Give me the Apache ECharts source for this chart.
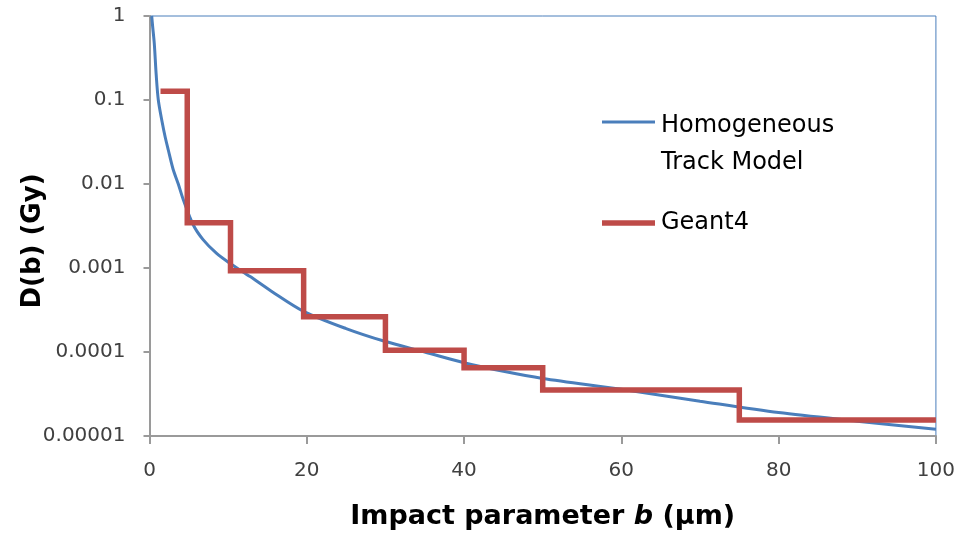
<!DOCTYPE html>
<html>
<head>
<meta charset="utf-8">
<script src="https://cdn.jsdelivr.net/npm/echarts@6/dist/echarts.min.js"></script>
<style>
  html, body { margin: 0; padding: 0; background: #fff; }
  #chart { width: 958px; height: 540px; }
</style>
</head>
<body>
<div id="chart"></div>
<script>
// Homogeneous track model: dose vs. impact parameter
const modelB = [0.28, 0.4, 0.61, 0.85, 1.12, 1.6, 2.0, 2.39, 3.0, 3.66, 4.3, 5.57, 6.84, 8.5, 10.2,
                12.8, 15.5, 19.6, 25, 29.8, 35, 40, 45, 50, 60, 70, 80, 90, 100];
const modelDose = [1.0, 0.75, 0.47, 0.2, 0.1, 0.055, 0.036, 0.0254, 0.015, 0.01, 0.0065, 0.00325, 0.00216, 0.0015, 0.00114,
                   0.00079, 0.00053, 0.000305, 0.00019, 0.000135, 0.0001, 7.46e-5, 5.9e-5, 4.85e-5, 3.6e-5, 2.6e-5, 1.9e-5, 1.5e-5, 1.2e-5];

// Geant4 binned dose: left bin edges (last entry closes the final bin)
const geantB = [1.4, 4.8, 10.3, 19.6, 30, 40, 50, 75, 100];
const geantDose = [0.127, 0.00346, 0.00093, 0.000262, 0.000105, 6.5e-5, 3.53e-5, 1.55e-5, 1.55e-5];

const xTicks = [0, 20, 40, 60, 80, 100];
const yTickLabels = ['0.00001', '0.0001', '0.001', '0.01', '0.1', '1'];

const seriesNames = ['Homogeneous\nTrack Model', 'Geant4'];
const blue = '#4a7ebb';
const red = '#be4b48';
const font = 'DejaVu Sans';

const chart = echarts.init(document.getElementById('chart'), null, { renderer: 'canvas' });

chart.setOption({
  animation: false,
  backgroundColor: '#ffffff',
  grid: {
    left: 149.5, right: 22, top: 16, bottom: 104,
    show: true, borderColor: blue, borderWidth: 1, backgroundColor: 'transparent'
  },
  xAxis: {
    type: 'value',
    min: xTicks[0], max: xTicks[xTicks.length - 1], interval: 20,
    axisLine: { show: true, lineStyle: { color: '#9a9a9a', width: 2 } },
    axisTick: { show: true, length: 8, lineStyle: { color: '#9a9a9a', width: 2 } },
    splitLine: { show: false },
    axisLabel: { margin: 25, fontFamily: font, fontSize: 20, color: '#404040' },
    name: '{n|Impact parameter }{i|b}{n| (µm)}',
    nameLocation: 'middle',
    nameGap: 67,
    nameMoveOverlap: false,
    nameTextStyle: {
      rich: {
        n: { fontFamily: font, fontWeight: 'bold', fontSize: 27, color: '#000' },
        i: { fontFamily: font, fontWeight: 'bold', fontStyle: 'italic', fontSize: 27, color: '#000' }
      }
    }
  },
  yAxis: {
    type: 'log',
    logBase: 10,
    min: 1e-5, max: 1,
    axisLine: { show: true, lineStyle: { color: '#9a9a9a', width: 2 } },
    axisTick: { show: true, length: 6, lineStyle: { color: '#9a9a9a', width: 2 } },
    splitLine: { show: false },
    axisLabel: {
      margin: 24, fontFamily: font, fontSize: 20, color: '#404040',
      formatter: v => yTickLabels[Math.round(Math.log10(v)) + 5]
    },
    name: 'D(b) (Gy)',
    nameLocation: 'middle',
    nameGap: 103,
    nameMoveOverlap: false,
    nameTextStyle: { fontFamily: font, fontWeight: 'bold', fontSize: 26, color: '#000', padding: [0, 30, 0, 0] }
  },
  series: [
    {
      name: seriesNames[0],
      type: 'line',
      data: modelB.map((b, i) => [b, modelDose[i]]),
      smooth: 0.3,
      showSymbol: false,
      symbol: 'none',
      lineStyle: { color: blue, width: 3 },
      z: 2
    },
    {
      name: seriesNames[1],
      type: 'line',
      step: 'end',
      data: geantB.map((b, i) => [b, geantDose[i]]),
      showSymbol: false,
      symbol: 'none',
      lineStyle: { color: red, width: 5.5, join: 'miter' },
      z: 3
    }
  ],
  graphic: [
    { type: 'line', shape: { x1: 602, y1: 122, x2: 655, y2: 122 }, style: { stroke: blue, lineWidth: 3 } },
    { type: 'text', left: 661, top: 107, style: { text: 'Homogeneous\nTrack Model', font: '24px "DejaVu Sans"', fill: '#000', lineHeight: 37 } },
    { type: 'line', shape: { x1: 602, y1: 223, x2: 655, y2: 223 }, style: { stroke: red, lineWidth: 5.5 } },
    { type: 'text', left: 661, top: 208, style: { text: 'Geant4', font: '24px "DejaVu Sans"', fill: '#000', lineHeight: 30 } }
  ]
});
</script>
</body>
</html>
